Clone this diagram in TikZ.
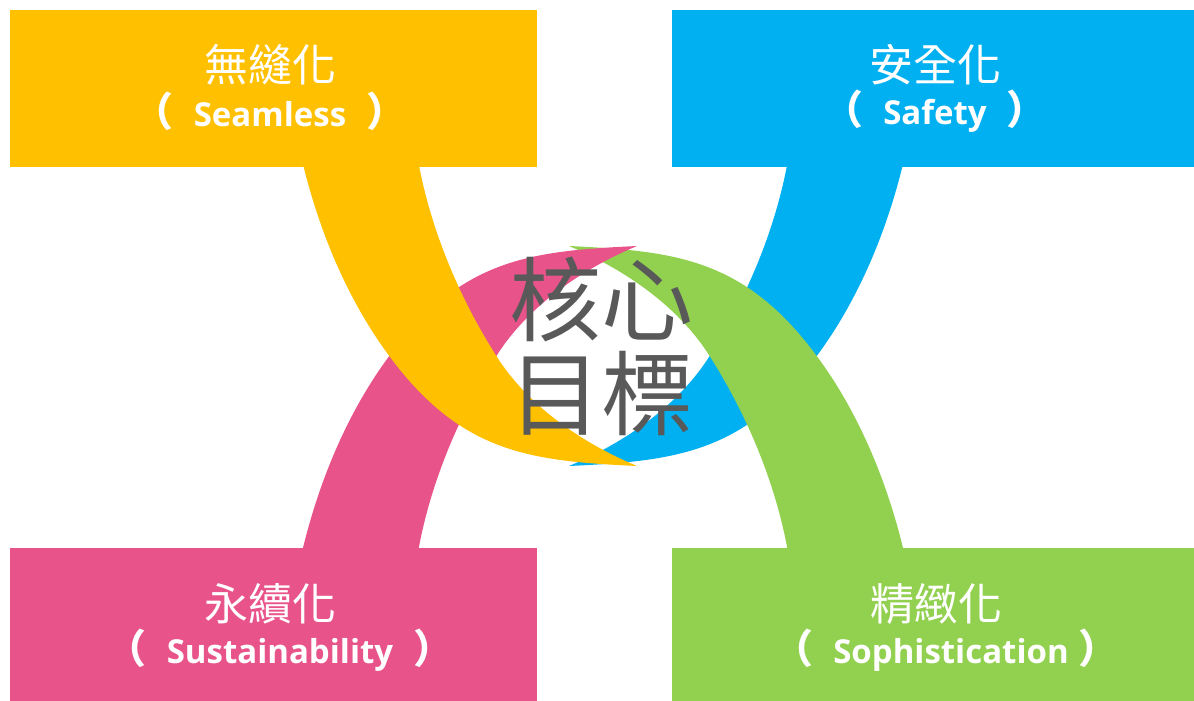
\documentclass[tikz,border=0pt]{standalone}
\usepackage{fontspec}
\setmainfont{Open Sans}
\newfontfamily\cjk{Noto Sans CJK TC}
\definecolor{cyel}{HTML}{FFC000}
\definecolor{cblue}{HTML}{00B0F0}
\definecolor{cpink}{HTML}{E8538A}
\definecolor{cgreen}{HTML}{92D050}
\definecolor{cgray}{HTML}{595959}
\tikzset{
  boxtitle/.style={text=white, inner sep=0pt, font=\cjk\fontsize{44}{44}\selectfont},
  boxsub/.style={text=white, inner sep=0pt, font=\bfseries\fontsize{33}{33}\selectfont},
  coretext/.style={text=cgray, inner sep=0pt, align=center, font=\cjk\fontsize{92}{94}\selectfont},
}
% one crescent band, in coordinates relative to the centre of the ring
\newcommand{\bandshape}[1]{%
  \fill[#1] (-301,-196) .. controls (-284.3,-126) and (-256,-56.7) .. (-213,1)
    .. controls (-141.2,97.2) and (-73,105) .. (34,110)
    .. controls (-18.8,88) and (-73.7,51.6) .. (-106,1)
    .. controls (-143.7,-58) and (-172.7,-127.1) .. (-185,-196) -- cycle;}
\newcommand{\lp}{{\cjk\fontsize{40}{40}\selectfont （}\hspace{20pt}}
\newcommand{\rp}{\hspace{20pt}{\cjk\fontsize{40}{40}\selectfont ）}}
\begin{document}
\begin{tikzpicture}[x=1pt,y=-1pt]
\useasboundingbox (0,0) rectangle (1194,701);
% boxes
\fill[cyel] (10,10) rectangle (537,167);
\fill[cblue] (672,10) rectangle (1194,167);
\fill[cpink] (10,548) rectangle (537,701);
\fill[cgreen] (672,548) rectangle (1194,701);
% bands (order: blue, green, pink, yellow)
\begin{scope}[shift={(603,356)}, xscale=-1]\bandshape{cblue}\end{scope}
\begin{scope}[shift={(603,356)}, xscale=-1, yscale=-1]\bandshape{cgreen}\end{scope}
\begin{scope}[shift={(603,356)}, yscale=-1]\bandshape{cpink}\end{scope}
\begin{scope}[shift={(603,356)}]\bandshape{cyel}\end{scope}
% texts
\node[boxtitle] (t1) at (270,65) {無縫化};
\node[boxsub] (s1) at (270,111) {\lp Seamless\rp};
\node[boxtitle] (t2) at (935,65) {安全化};
\node[boxsub] (s2) at (935,111) {\lp Safety\rp};
\node[boxtitle] (t3) at (270,604) {永續化};
\node[boxsub] (s3) at (280,650) {\lp Sustainability\rp};
\node[boxtitle] (t4) at (936,604) {精緻化};
\node[boxsub] (s4) at (946,650) {\lp Sophistication\hspace{-10pt}\rp};
\node[coretext] (core) at (601,346) {核心\\目標};
\end{tikzpicture}
\end{document}
